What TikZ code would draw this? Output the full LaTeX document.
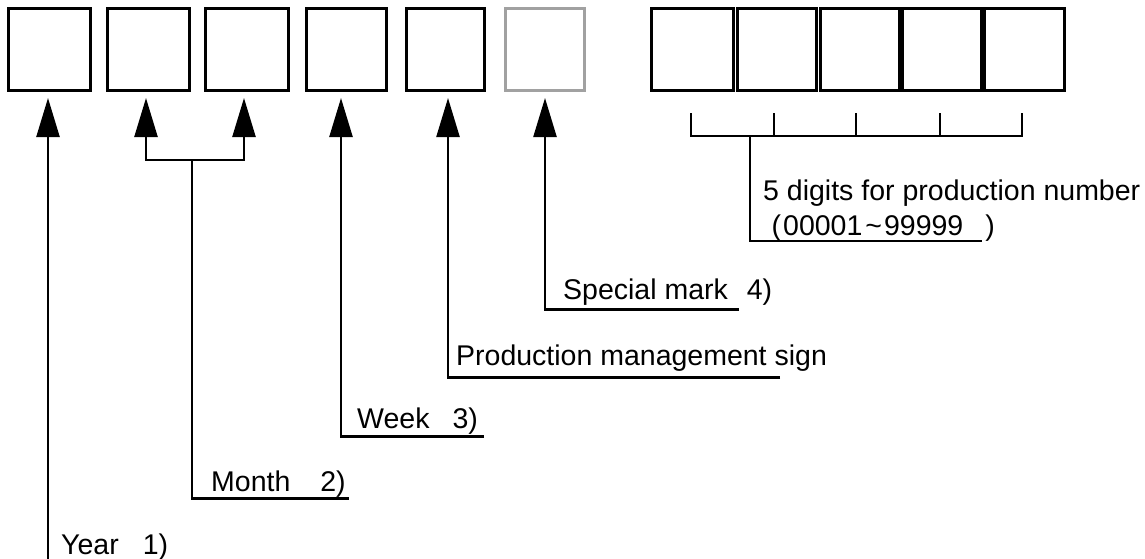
\documentclass[tikz,border=0pt]{standalone}
\usepackage{fontspec}
\setmainfont{Liberation Sans}
\usetikzlibrary{arrows.meta}
\begin{document}
\begin{tikzpicture}[x=1pt,y=-1pt,
  cell/.style={draw, line width=2.5pt, inner sep=0pt, minimum height=82pt, anchor=north west},
  graycell/.style={cell, draw=black!37},
  lbl/.style={anchor=base west, inner sep=0pt, font=\fontsize{28.5}{33}\selectfont},
  conn/.style={line width=2.4pt},
  arr/.style={conn, -{Triangle[width=23pt,length=39pt]}},
  biarr/.style={conn, {Triangle[width=23pt,length=39pt]}-{Triangle[width=23pt,length=39pt]}}]
\useasboundingbox (0,0) rectangle (1145,558);
% left boxes
\node[cell, minimum width=82pt] (b1) at (7,7) {};
\node[cell, minimum width=82pt] (b2) at (106,7) {};
\node[cell, minimum width=83pt] (b3) at (204,7) {};
\node[cell, minimum width=80pt] (b4) at (305,7) {};
\node[cell, minimum width=78pt] (b5) at (405,7) {};
\node[graycell, minimum width=79pt] (b6) at (504,7) {};
% right boxes
\node[cell, minimum width=82pt] (n1) at (650,7) {};
\node[cell, minimum width=79pt] (n2) at (736,7) {};
\node[cell, minimum width=79pt] (n3) at (819,7) {};
\node[cell, minimum width=79pt] (n4) at (901,7) {};
\node[cell, minimum width=80pt] (n5) at (983,7) {};
% arrow tips
\coordinate (t1) at (48,98);
\coordinate (t2) at (146,98);
\coordinate (t3) at (244,98);
\coordinate (t4) at (341,98);
\coordinate (t5) at (448,98);
\coordinate (t6) at (545,98);
% labels
\node[lbl] (year) at (61,554) {Year\hspace{24pt}1)};
\node[lbl] (month) at (211,491.5) {Month\hspace{30pt}2)};
\node[lbl] (week) at (357,428) {Week\hspace{23pt}3)};
\node[lbl] (prod) at (456,365) {Production management sign};
\node[lbl] (spec) at (563,299.5) {Special mark\hspace{19pt}4)};
\node[lbl] (dig) at (763,200) {5 digits for production number};
\node[lbl] (rng) at (771.5,235) {(\hspace{2pt}00001\hspace{3pt}\textasciitilde\hspace{2pt}99999\hspace{22pt})};
% year
\coordinate (yb) at (48,560);
\draw[arr] (yb) -- (t1);
% month
\coordinate (mL) at (146,160);
\coordinate (mR) at (244,160);
\coordinate (mM) at (192,160);
\coordinate (mC) at (192,498.5);
\coordinate (mE) at (349,498.5);
\draw[biarr] (t2) -- (mL) -- (mR) -- (t3);
\draw[conn] (mM) -- (mC) -- (mE);
% week
\coordinate (wC) at (341,436.5);
\coordinate (wE) at (484,436.5);
\draw[arr] (wE) -- (wC) -- (t4);
% production management
\coordinate (pC) at (448,377.5);
\coordinate (pE) at (780,377.5);
\draw[arr] (pE) -- (pC) -- (t5);
% special mark
\coordinate (sC) at (545,309.3);
\coordinate (sE) at (739,309.3);
\draw[arr] (sE) -- (sC) -- (t6);
% production number bracket
\coordinate (k1) at (691,113);
\coordinate (k2) at (774,113);
\coordinate (k3) at (856,113);
\coordinate (k4) at (940,113);
\coordinate (k5) at (1022,113);
\coordinate (h1) at (691,136);
\coordinate (h2) at (774,136);
\coordinate (h3) at (856,136);
\coordinate (h4) at (940,136);
\coordinate (h5) at (1022,136);
\draw[conn] (k1) -- (h1) -- (h5) -- (k5);
\draw[conn] (k2) -- (h2);
\draw[conn] (k3) -- (h3);
\draw[conn] (k4) -- (h4);
\coordinate (dT) at (750,136);
\coordinate (dC) at (750,241);
\coordinate (dE) at (982,241);
\draw[conn] (dT) -- (dC) -- (dE);
\end{tikzpicture}
\end{document}
